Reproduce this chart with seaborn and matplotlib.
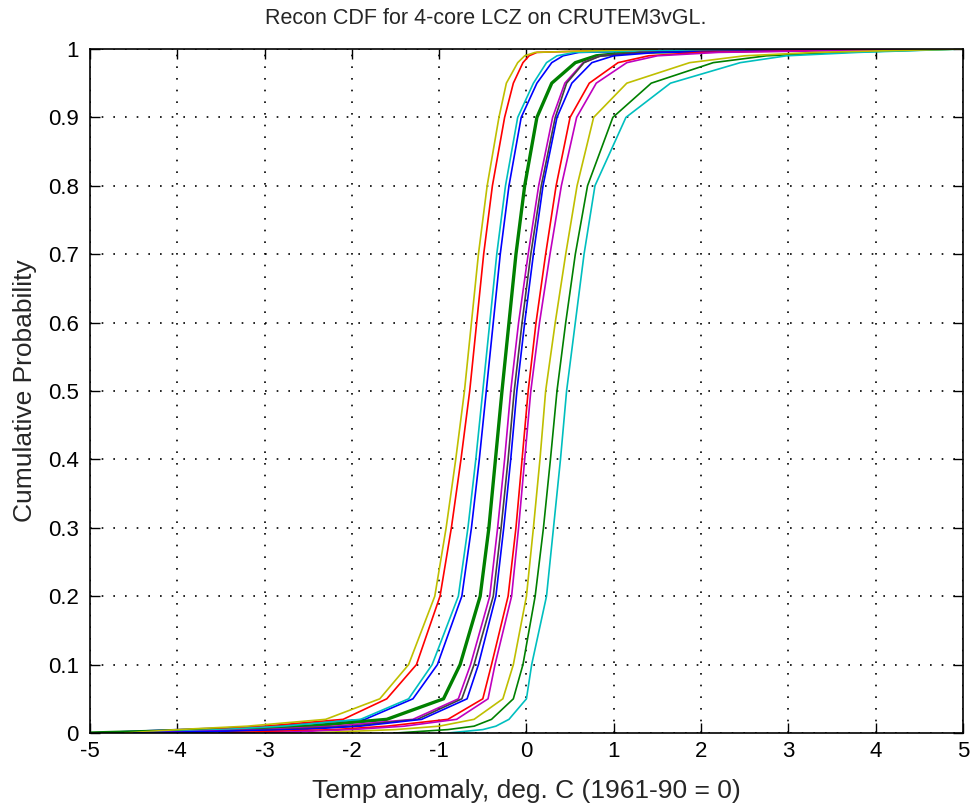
import numpy as np
import pandas as pd
import matplotlib
matplotlib.use("Agg")
import matplotlib.pyplot as plt
import seaborn as sns

# Probability levels at which each curve's quantile (temperature) was read
prob_levels = [0.0, 0.005, 0.01, 0.02, 0.05, 0.1, 0.2, 0.3, 0.4, 0.5,
               0.6, 0.7, 0.8, 0.9, 0.95, 0.98, 0.99, 0.995, 1.0]

yellow1 = [-4.6, -4.0, -3.2, -2.3, -1.68, -1.35, -1.05, -0.92, -0.81, -0.71,
           -0.63, -0.55, -0.45, -0.315, -0.23, -0.10, -0.02, 0.10, 1.5]
red1 = [-4.0, -3.6, -3.0, -2.1, -1.60, -1.26, -0.99, -0.86, -0.75, -0.65,
        -0.57, -0.49, -0.39, -0.25, -0.15, -0.04, 0.03, 0.12, 1.5]
cyan1 = [-4.5, -3.5, -2.8, -1.9, -1.35, -1.08, -0.78, -0.67, -0.58, -0.50,
         -0.42, -0.34, -0.24, -0.10, 0.08, 0.23, 0.35, 0.55, 2.5]
blue1 = [-5.0, -4.0, -2.9, -1.85, -1.30, -1.02, -0.74, -0.63, -0.54, -0.46,
         -0.38, -0.30, -0.20, -0.06, 0.12, 0.29, 0.42, 0.60, 3.0]
green1 = [-5.0, -3.5, -2.5, -1.6, -0.95, -0.76, -0.53, -0.43, -0.355, -0.28,
          -0.20, -0.12, -0.02, 0.12, 0.29, 0.56, 0.80, 1.2, 3.5]
magenta1 = [-4.5, -3.0, -2.2, -1.3, -0.78, -0.64, -0.42, -0.33, -0.25, -0.18,
            -0.09, 0.02, 0.14, 0.30, 0.44, 0.65, 0.85, 1.3, 4.0]
gray1 = [-4.0, -2.8, -2.0, -1.25, -0.74, -0.60, -0.38, -0.29, -0.21, -0.14,
         -0.05, 0.05, 0.17, 0.33, 0.46, 0.66, 0.85, 1.3, 4.0]
blue2 = [-4.5, -2.6, -1.9, -1.2, -0.68, -0.55, -0.35, -0.26, -0.18, -0.11,
         -0.02, 0.08, 0.19, 0.35, 0.52, 0.75, 1.0, 1.5, 4.5]
red2 = [-3.5, -2.2, -1.6, -0.9, -0.50, -0.40, -0.21, -0.12, -0.05, 0.02,
        0.11, 0.22, 0.34, 0.50, 0.72, 1.05, 1.4, 2.0, 4.5]
magenta2 = [-3.0, -2.0, -1.4, -0.8, -0.44, -0.36, -0.17, -0.09, -0.02, 0.05,
            0.15, 0.27, 0.40, 0.575, 0.80, 1.15, 1.5, 2.2, 4.8]
yellow2 = [-2.5, -1.5, -1.0, -0.6, -0.27, -0.15, 0.00, 0.08, 0.155, 0.22,
           0.33, 0.45, 0.58, 0.77, 1.15, 1.87, 2.5, 3.3, 5.0]
green2 = [-1.5, -0.9, -0.6, -0.4, -0.15, -0.04, 0.10, 0.195, 0.275, 0.35,
          0.45, 0.56, 0.70, 0.99, 1.43, 2.14, 2.75, 3.6, 5.0]
cyan2 = [-0.9, -0.5, -0.35, -0.2, 0.0, 0.06, 0.23, 0.31, 0.39, 0.46,
         0.56, 0.66, 0.785, 1.14, 1.65, 2.45, 2.98, 3.8, 5.0]

curve_names = ["blue1", "green1", "red1", "cyan1", "magenta1", "yellow1", "gray1",
               "blue2", "green2", "red2", "cyan2", "magenta2", "yellow2"]
curve_values = [blue1, green1, red1, cyan1, magenta1, yellow1, gray1,
                blue2, green2, red2, cyan2, magenta2, yellow2]

x_ticks = [-5, -4, -3, -2, -1, 0, 1, 2, 3, 4, 5]
y_ticks = [0, 0.1, 0.2, 0.3, 0.4, 0.5, 0.6, 0.7, 0.8, 0.9, 1]
y_tick_labels = ["0", "0.1", "0.2", "0.3", "0.4", "0.5", "0.6", "0.7", "0.8", "0.9", "1"]

colors = {
    "blue": (0, 0, 1), "green": (0, 0.5, 0), "red": (1, 0, 0),
    "cyan": (0, 0.75, 0.75), "magenta": (0.75, 0, 0.75),
    "yellow": (0.75, 0.75, 0), "gray": (0.25, 0.25, 0.25),
}

sns.set_style("white")
plt.rcParams["font.family"] = ["Liberation Sans", "DejaVu Sans"]

fig = plt.figure(figsize=(9.72, 8.08), dpi=100)
ax = fig.add_axes([0.0926, 0.0928, 0.898, 0.8466])

for name, vals in zip(curve_names, curve_values):
    df = pd.DataFrame({"x": vals, "p": prob_levels})
    col = colors[name.rstrip("12")]
    lw = 2.4 if name == "green1" else 1.2
    sns.lineplot(data=df, x="x", y="p", ax=ax, color=col, linewidth=lw,
                 sort=False, estimator=None)

ax.set_xlim(-5, 5)
ax.set_ylim(0, 1)
ax.set_xticks(x_ticks)
ax.set_xticklabels([str(t) for t in x_ticks])
ax.set_yticks(y_ticks)
ax.set_yticklabels(y_tick_labels)
ax.grid(True, color="black", linestyle=(0, (1, 6)), linewidth=1.2)
ax.tick_params(direction="in", length=7, width=1, labelsize=16,
               top=True, right=True, bottom=True, left=True, colors="black")
ax.tick_params(axis="x", pad=6)
ax.tick_params(axis="y", pad=8)
for s in ax.spines.values():
    s.set_visible(True)
    s.set_color("black")
    s.set_linewidth(1.2)
ax.set_xlabel("Temp anomaly, deg. C (1961-90 = 0)", fontsize=19, labelpad=12)
ax.set_ylabel("Cumulative Probability", fontsize=19, labelpad=8)
fig.text(0.5, 1 - 19 / 808, "Recon CDF for 4-core LCZ on CRUTEM3vGL.",
         fontsize=15.5, ha="center", va="center")

fig.savefig("out.png", dpi=100, facecolor="white")
